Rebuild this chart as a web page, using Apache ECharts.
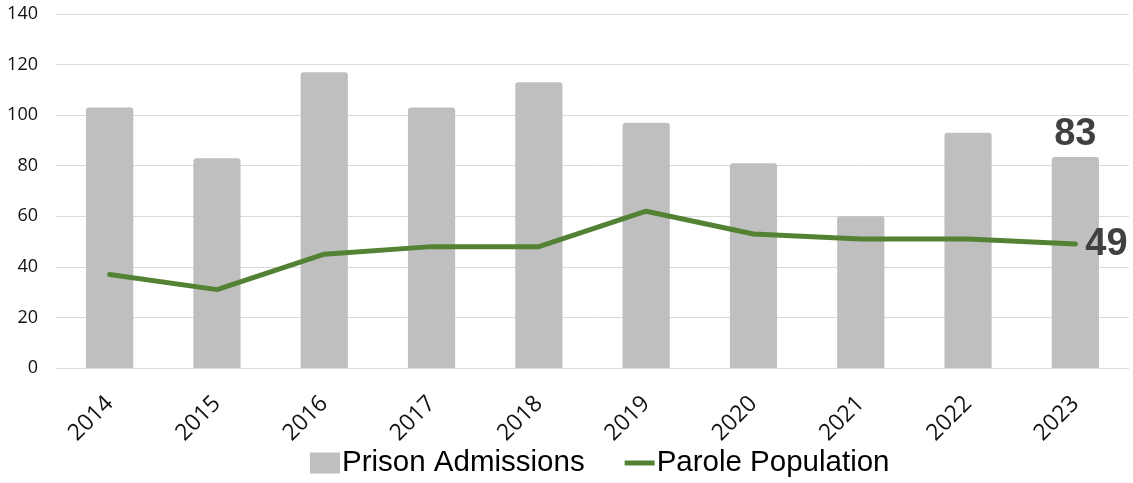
<!DOCTYPE html>
<html>
<head>
<meta charset="utf-8">
<script src="https://cdn.jsdelivr.net/npm/echarts@6/dist/echarts.min.js"></script>
<style>html,body{margin:0;padding:0;background:#fff;}#c{width:1133px;height:483px;}</style>
</head>
<body>
<div id="c"></div>
<script>
const years = ['2014','2015','2016','2017','2018','2019','2020','2021','2022','2023'];
const prisonAdmissions = [103, 83, 117, 103, 113, 97, 81, 60, 93, 83.4];
const parolePopulation = [37, 31, 45, 48, 48, 62, 53, 51, 51, 49];
const yTicks = {min: 0, max: 140, interval: 20};

const chart = echarts.init(document.getElementById('c'));
const lastIdx = years.length - 1;
const labelFont = {fontFamily: 'Liberation Sans, Arial, sans-serif', fontWeight: 'bold', fontSize: 38, color: '#404040'};
chart.setOption({
  animation: false,
  grid: {left: 56, right: 4, top: 14, bottom: 115},
  legend: {
    top: 446, left: 310, padding: 0,
    itemGap: 40, itemWidth: 30, itemHeight: 21,
    textStyle: {fontFamily: 'Liberation Sans Narrow, Arial Narrow, Liberation Sans, sans-serif', fontSize: 29.5, lineHeight: 34, color: '#000', padding: [0,0,0,-3]},
    data: [
      {name: 'Prison Admissions', icon: 'rect', itemStyle: {color: '#bfbfbf'}},
      {name: 'Parole Population', icon: 'path://M0,0h30v5h-30z', itemStyle: {color: '#548235'}}
    ]
  },
  xAxis: {
    type: 'category', data: years,
    axisLine: {show: false}, axisTick: {show: false},
    axisLabel: {rotate: 45, fontFamily: 'Open Sans, sans-serif', fontSize: 23, color: '#111', margin: 32}
  },
  yAxis: {
    type: 'value', min: yTicks.min, max: yTicks.max, interval: yTicks.interval,
    axisLine: {show: false}, axisTick: {show: false},
    axisLabel: {fontFamily: 'Open Sans, sans-serif', fontSize: 18, color: '#111', margin: 18},
    splitLine: {lineStyle: {color: '#d9d9d9', width: 1}}
  },
  series: [
    {
      name: 'Prison Admissions', type: 'bar', data: prisonAdmissions.map((v, i) => i === lastIdx ? {
        value: v,
        label: Object.assign({show: true, position: 'top', distance: 4, formatter: p => Math.round(p.value)}, labelFont)
      } : v),
      barWidth: '44%',
      itemStyle: {color: '#bfbfbf', borderRadius: [3,3,0,0]}
    },
    {
      name: 'Parole Population', type: 'line', data: parolePopulation,
      symbol: 'none', showSymbol: false,
      endLabel: Object.assign({show: true, distance: 10, formatter: p => p.value}, labelFont),
      lineStyle: {color: '#548235', width: 5, cap: 'round'},
      itemStyle: {color: '#548235'}
    }
  ]
});
</script>
</body>
</html>
